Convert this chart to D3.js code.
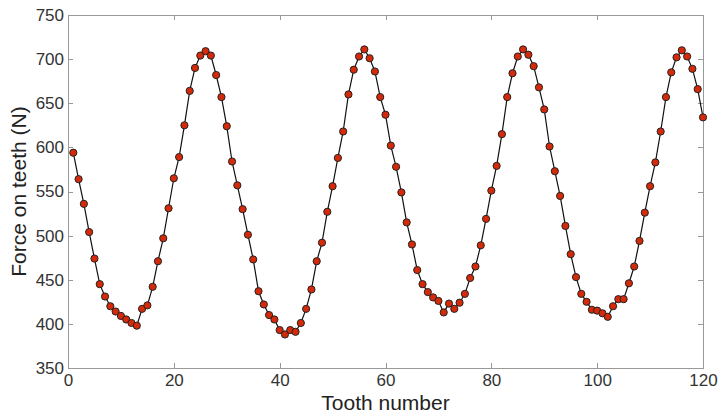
<!doctype html>
<html lang="en">
<head>
<meta charset="utf-8">
<title>Force on teeth</title>
<script src="https://d3js.org/d3.v7.min.js" charset="utf-8"></script>
<style>
body {
    margin: 0;
    background: #fff;
}
.axis text {
    font-family: "Liberation Sans", Arial, sans-serif;
    font-size: 17px;
    fill: #333;
}
.axis path,
.axis line {
    fill: none;
    stroke: #999;
    shape-rendering: crispEdges;
}
.label {
    font-family: "Liberation Sans", Arial, sans-serif;
    font-size: 21px;
    fill: #222;
}
</style>
</head>
<body>
<div id="vis-container"></div>
<script type="text/javascript">

// tooth numbers 1..120 and force values
var teeth = d3.range(1, 121);
var force = [
    594, 564, 536, 504, 474, 445, 431, 420, 414, 409,
    405, 401, 398, 417, 421, 442, 471, 497, 531, 565,
    589, 625, 664, 690, 704, 709, 704, 682, 657, 624,
    584, 557, 530, 501, 473, 437, 422, 410, 405, 393,
    388, 393, 391, 401, 417, 439, 471, 492, 527, 556,
    588, 618, 660, 688, 703, 711, 701, 686, 657, 637,
    602, 578, 549, 515, 490, 461, 445, 436, 430, 426,
    413, 423, 417, 424, 434, 452, 465, 489, 519, 551,
    579, 615, 657, 684, 703, 711, 705, 692, 668, 643,
    601, 573, 545, 511, 479, 453, 434, 425, 416, 415,
    412, 408, 420, 428, 428, 446, 465, 494, 526, 556,
    583, 618, 657, 685, 702, 710, 703, 689, 666, 634
];
var xTicks = [0, 20, 40, 60, 80, 100, 120];
var yTicks = [350, 400, 450, 500, 550, 600, 650, 700, 750];

var W = 720, H = 413;
var margin = { top: 15, right: 17, bottom: 45, left: 68 },
    width  = W - margin.left - margin.right,
    height = H - margin.top  - margin.bottom;

var svg = d3.select("#vis-container")
  .append("svg")
    .attr("width", W)
    .attr("height", H);

var canvas = svg.append("g")
    .attr("transform", "translate(" + margin.left + "," + margin.top + ")");

var xScale = d3.scaleLinear().domain([0, 120]).range([0, width]);
var yScale = d3.scaleLinear().domain([350, 750]).range([height, 0]);

// box axes, ticks pointing inward like matlab
canvas.append("g")
    .attr("class", "x axis")
    .attr("transform", "translate(0," + height + ")")
    .call(d3.axisBottom(xScale).tickValues(xTicks).tickSizeInner(-5).tickSizeOuter(0).tickPadding(6));

canvas.append("g")
    .attr("class", "x axis")
    .call(d3.axisTop(xScale).tickValues(xTicks).tickSizeInner(-5).tickSizeOuter(0).tickFormat(""));

canvas.append("g")
    .attr("class", "y axis")
    .call(d3.axisLeft(yScale).tickValues(yTicks).tickSizeInner(-5).tickSizeOuter(0).tickPadding(4));

canvas.append("g")
    .attr("class", "y axis")
    .attr("transform", "translate(" + width + ",0)")
    .call(d3.axisRight(yScale).tickValues(yTicks).tickSizeInner(-5).tickSizeOuter(0).tickFormat(""));

// line through points
var line = d3.line()
    .x(function(d, i) { return xScale(teeth[i]); })
    .y(function(d) { return yScale(d); });

canvas.append("path")
    .datum(force)
    .attr("fill", "none")
    .attr("stroke", "#111")
    .attr("stroke-width", 1.2)
    .attr("d", line);

canvas.selectAll(".dot")
    .data(force)
  .enter().append("circle")
    .attr("class", "dot")
    .attr("cx", function(d, i) { return xScale(teeth[i]); })
    .attr("cy", function(d) { return yScale(d); })
    .attr("r", 3.6)
    .attr("fill", "#d42a0a")
    .attr("stroke", "#222")
    .attr("stroke-width", 1);

// axis titles
svg.append("text")
    .attr("class", "label")
    .attr("x", margin.left + width / 2)
    .attr("y", H - 3)
    .attr("text-anchor", "middle")
    .text("Tooth number");

svg.append("text")
    .attr("class", "label")
    .attr("transform", "translate(26," + (margin.top + height / 2) + ") rotate(-90)")
    .attr("text-anchor", "middle")
    .text("Force on teeth (N)");

</script>
</body>
</html>
